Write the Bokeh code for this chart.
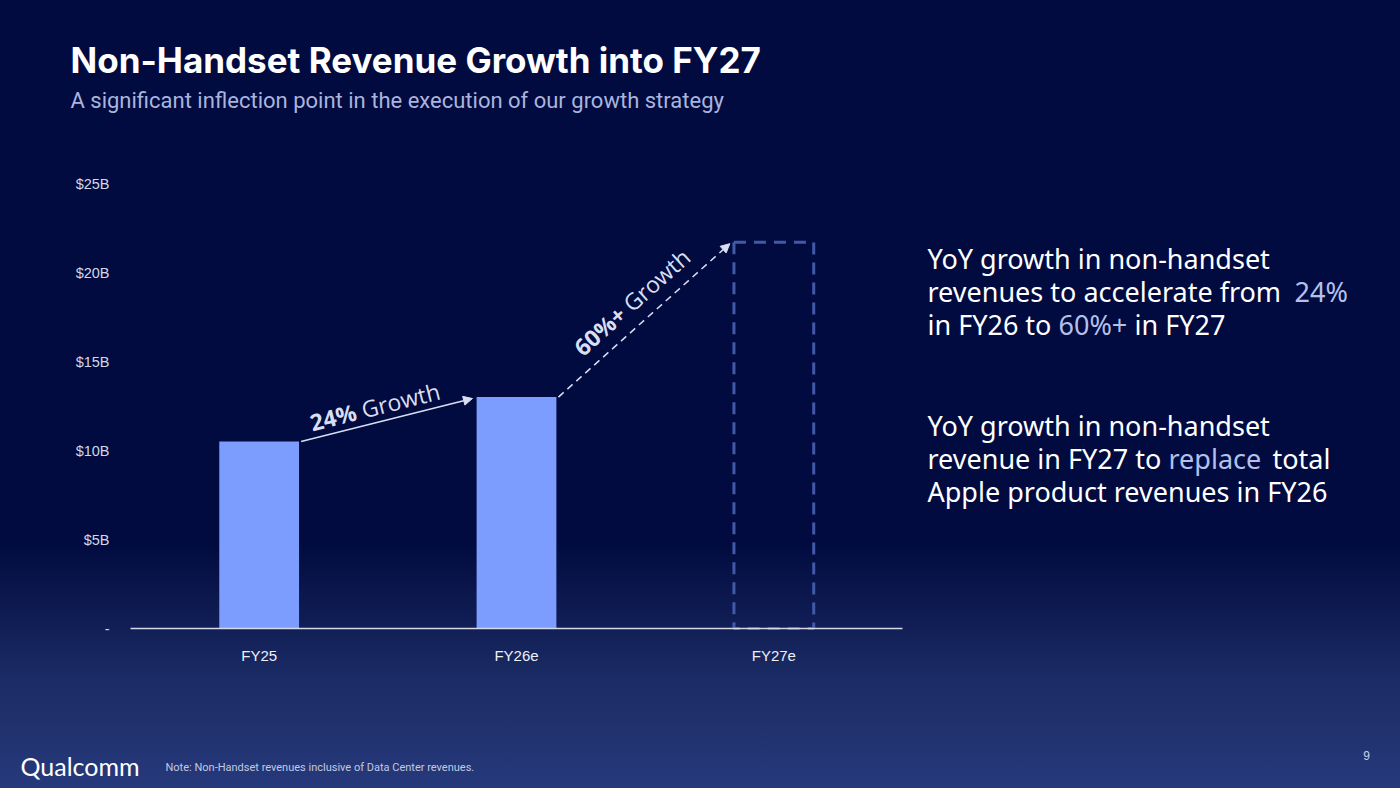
import math
from bokeh.plotting import figure
from bokeh.models import Range1d, FixedTicker, Label, Arrow, NormalHead, LinearAxis
from bokeh.core.properties import value
from bokeh.embed import file_html
from bokeh.resources import INLINE

# ---------------- data ----------------
categories = ["FY25", "FY26e", "FY27e"]
revenue_b = [10.5, 13.0, 21.7]          # $B
is_estimate_box = [False, False, True]  # FY27e drawn as dashed outline
y_ticks = [0, 5, 10, 15, 20, 25]
y_tick_labels = ["-", "$5B", "$10B", "$15B", "$20B", "$25B"]
growth_bold = ["24%", "60%+"]
growth_word = "Growth"

title_text = "Non-Handset Revenue Growth into FY27"
subtitle_text = "A significant inflection point in the execution of our growth strategy"
note_text = "Note: Non-Handset revenues inclusive of Data Center revenues."
logo_text = "Qualcomm"
page_text = "9"
side_lines = [
    [("YoY growth in non-handset", False)],
    [("revenues to accelerate from", False), ("24%", True)],
    [("in FY26 to", False), ("60%+", True), ("in FY27", False)],
    [("YoY growth in non-handset", False)],
    [("revenue in FY27 to", False), ("replace", True), ("total", False)],
    [("Apple product revenues in FY26", False)],
]

# ---------------- style / layout ----------------
W, H = 1400, 788
CH_L, CH_R, CH_T, CH_B = 130, 902, 183, 628     # chart area on the page (px)
X_DOM = (0, len(categories))
Y_DOM = (0, 25)
BG_TOP, BG_BOTTOM = "#010b3f", "#26397b"
BAR_COLOR = "#7d9dfe"
BOX_COLOR = "#4259a8"
ARROW_COLOR = "#d9def2"
WHITE = "#ffffff"
HILITE = "#b4c0ec"
BAR_W = 0.31
BASE_ADJ = 0.38   # alphabetic baseline correction (fraction of font size)

px_x = (CH_R - CH_L) / (X_DOM[1] - X_DOM[0])
px_y = (CH_B - CH_T) / (Y_DOM[1] - Y_DOM[0])

p = figure(width=W, height=H, output_backend="svg", toolbar_location=None,
           x_range=Range1d(0, W), y_range=Range1d(H, 0),
           x_axis_location=None, y_axis_location=None,
           min_border=0, background_fill_color=None, border_fill_color=None,
           outline_line_color=None,
           styles={"background": f"linear-gradient(to bottom, {BG_TOP} 0%, {BG_TOP} 69%, #1b2b64 86%, {BG_BOTTOM} 100%)"})
p.grid.visible = False
p.extra_x_ranges = {"cx": Range1d(X_DOM[0] - CH_L / px_x, X_DOM[1] + (W - CH_R) / px_x)}
p.extra_y_ranges = {"cy": Range1d(Y_DOM[0] - (H - CH_B) / px_y, Y_DOM[1] + CH_T / px_y)}

xs = [i + 0.5 for i in range(len(categories))]

# axes
xax = LinearAxis(x_range_name="cx", y_range_name="cy", fixed_location=0, bounds=X_DOM)
xax.ticker = FixedTicker(ticks=xs)
xax.major_label_overrides = {x: c for x, c in zip(xs, categories)}
xax.axis_line_color = "#d5d8e6"
xax.axis_line_width = 1.5
xax.major_tick_line_color = None
xax.minor_tick_line_color = None
xax.major_label_standoff = 12
xax.major_label_text_font = "Liberation Sans"
xax.major_label_text_font_size = "15px"
xax.major_label_text_color = "#eef0f6"
p.add_layout(xax, "below")

yax = LinearAxis(x_range_name="cx", y_range_name="cy", fixed_location=0, bounds=Y_DOM)
yax.ticker = FixedTicker(ticks=y_ticks)
yax.major_label_overrides = {t: l for t, l in zip(y_ticks, y_tick_labels)}
yax.axis_line_color = None
yax.major_tick_line_color = None
yax.minor_tick_line_color = None
yax.major_label_standoff = 15
yax.major_label_text_font = "Liberation Sans"
yax.major_label_text_font_size = "14.5px"
yax.major_label_text_color = "#d3d7e6"
p.add_layout(yax, "left")

# bars
solid_x = [x for x, e in zip(xs, is_estimate_box) if not e]
solid_v = [v for v, e in zip(revenue_b, is_estimate_box) if not e]
box_x = [x for x, e in zip(xs, is_estimate_box) if e]
box_v = [v for v, e in zip(revenue_b, is_estimate_box) if e]
p.vbar(x=solid_x, top=solid_v, bottom=0, width=BAR_W, fill_color=BAR_COLOR,
       line_color=None, x_range_name="cx", y_range_name="cy")
p.vbar(x=box_x, top=box_v, bottom=0, width=BAR_W, fill_color=None,
       line_color=BOX_COLOR, line_width=3, line_dash="12 8",
       x_range_name="cx", y_range_name="cy")

# growth arrows
gap = 0.008
arrow_specs = [
    # (from idx, to idx, dash, split fraction, baseline distance)
    (0, 1, "solid", 0.36, 16),
    (1, 2, "7 5", 0.47, 22),
]
for k, (i0, i1, dash, t, dist) in enumerate(arrow_specs):
    x0 = xs[i0] + BAR_W / 2 + gap
    y0 = revenue_b[i0]
    x1 = xs[i1] - BAR_W / 2 - gap * 2
    y1 = revenue_b[i1] - 0.08
    p.add_layout(Arrow(end=NormalHead(size=9, fill_color=ARROW_COLOR, line_color=ARROW_COLOR),
                       x_start=x0, y_start=y0, x_end=x1, y_end=y1,
                       x_range_name="cx", y_range_name="cy",
                       line_color=ARROW_COLOR, line_width=1.5, line_dash=dash))
    th = math.atan2((y1 - y0) * px_y, (x1 - x0) * px_x)
    ax = x0 + t * (x1 - x0)
    ay = y0 + t * (y1 - y0)
    ox, oy = -dist * math.sin(th), -dist * math.cos(th)
    dx, dy = 3 * math.cos(th), -3 * math.sin(th)
    p.text(x=[ax], y=[ay], text=[growth_bold[k]], angle=th,
           x_offset=ox - dx, y_offset=oy - dy, text_align="right", text_baseline="alphabetic",
           text_font=value("Open Sans"), text_font_style="bold", text_font_size="23px",
           text_color=ARROW_COLOR, x_range_name="cx", y_range_name="cy")
    p.text(x=[ax], y=[ay], text=[growth_word], angle=th,
           x_offset=ox + dx, y_offset=oy + dy, text_align="left", text_baseline="alphabetic",
           text_font=value("Open Sans"), text_font_style="normal", text_font_size="23px",
           text_color=ARROW_COLOR, x_range_name="cx", y_range_name="cy")

# ---------------- slide texts (page pixel coordinates) ----------------
def page_label(text, px, py, size, color, font, style="normal", align="left"):
    p.add_layout(Label(x=px, y=py - BASE_ADJ * size, text=text, text_font=font,
                       text_font_size=f"{size}px", text_color=color,
                       text_font_style=style, text_align=align,
                       text_baseline="alphabetic"))

page_label(title_text, 70, 73, 35, WHITE, "Inter", "bold")
page_label(subtitle_text, 70, 108, 22, "#aab4de", "Roboto")
page_label(note_text, 165, 771, 11, "#c3c9e2", "Roboto")
page_label(logo_text, 20, 775, 25, WHITE, "Lato")
page_label(page_text, 1366, 760, 12, "#c8cfee", "Liberation Sans", align="center")

seg_x = [
    [927],
    [927, 1294],
    [927, 1058, 1134],
    [927],
    [927, 1168, 1272],
    [927],
]
base_y = [268, 301, 334, 435, 468, 501]
for segs, sxs, by in zip(side_lines, seg_x, base_y):
    for (txt, hl), sx in zip(segs, sxs):
        page_label(txt, sx, by, 27, HILITE if hl else WHITE, "Noto Sans")

open("out.html", "w").write(file_html(p, INLINE))
